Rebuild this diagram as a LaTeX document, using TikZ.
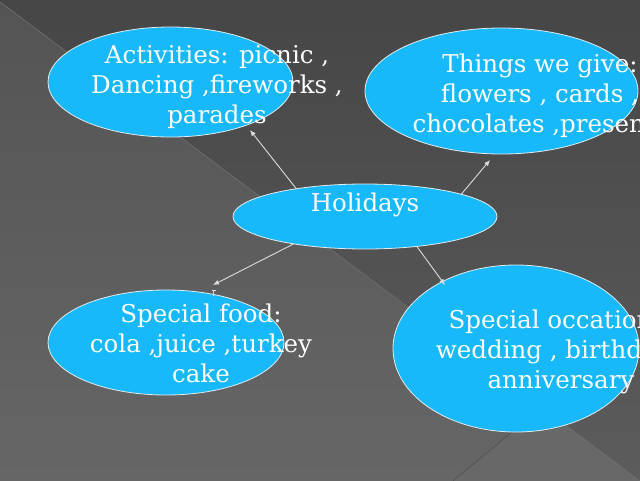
\documentclass[tikz,border=0pt]{standalone}
\usepackage{fontspec}
\setmainfont{DejaVu Serif}
\usetikzlibrary{shapes.geometric,arrows.meta}
\definecolor{bubblefill}{RGB}{24,185,251}
\definecolor{ringc}{RGB}{225,235,240}
\definecolor{linkc}{RGB}{220,220,220}
\definecolor{bgtop}{RGB}{70,70,70}
\definecolor{bgbot}{RGB}{92,92,92}
\definecolor{lowtop}{RGB}{84,84,84}
\definecolor{lowbot}{RGB}{102,102,102}
\definecolor{wedgec}{RGB}{104,104,104}
\definecolor{seamc}{RGB}{112,112,112}
\definecolor{seamd}{RGB}{80,80,80}
\begin{document}
\begin{tikzpicture}[x=1pt,y=-1pt,
  bubble/.style={ellipse, draw=ringc, line width=0.8pt, fill=bubblefill, inner sep=0pt, outer sep=0pt},
  bubbletext/.style={text=white, align=center, inner sep=0pt, font=\fontsize{24.5}{30}\selectfont},
  link/.style={draw=linkc, line width=0.9pt, -{Latex[length=6pt,width=5pt]}}]
\useasboundingbox (0,0) rectangle (640,480);
\clip (0,0) rectangle (640,480);
% background
\shade[top color=bgtop, bottom color=bgbot] (0,0) rectangle (640,480);
\shade[top color=lowtop, bottom color=lowbot] (0,2) -- (640,481) -- (0,481) -- cycle;
\fill[wedgec] (453,481) -- (542,407) -- (640,481) -- cycle;
\draw[seamc, line width=0.6pt] (0,2) -- (640,481);
\draw[seamd, line width=0.6pt] (542,407) -- (453,481);
% bubbles
\node[bubble, minimum width=245pt, minimum height=110pt] (act) at (170.5,82) {};
\node[bubble, minimum width=273pt, minimum height=126pt] (give) at (501.5,91) {};
\node[bubble, minimum width=264pt, minimum height=65pt] (hol) at (365,216.5) {};
\node[bubble, minimum width=236pt, minimum height=105pt] (food) at (166,342.5) {};
\node[bubble, minimum width=246pt, minimum height=167pt] (occ) at (516,348.5) {};
% arrow tips
\coordinate (tipA) at (250,130);
\coordinate (tipG) at (490,160);
\coordinate (tipF) at (213,285);
\coordinate (tipO) at (445,285);
\draw[link] (hol.158) -- (tipA);
\draw[link] (hol.13) -- (tipG);
\draw[link] (hol.201) -- (tipF);
\draw[link] (hol.330) -- (tipO);
% small tick above food bubble
\coordinate (tickT) at (213.5,290);
\coordinate (tickB) at (213.5,295.5);
\draw[linkc, line width=0.7pt] (tickT) -- (tickB);
\draw[linkc, line width=0.7pt] ([xshift=-2pt]tickT) -- ([xshift=2pt]tickT);
% texts
\node[bubbletext] (actT) at (217,87) {\strut Activities: picnic ,\\\strut Dancing ,fireworks ,\\\strut parades};
\node[bubbletext] (giveT) at (540,96) {\strut Things we give:\\\strut flowers , cards ,\\\strut chocolates ,presents};
\node[bubbletext] (holT) at (365,205) {\strut Holidays};
\node[bubbletext] (foodT) at (201,346) {\strut Special food:\\\strut cola ,juice ,turkey\\\strut cake};
\node[bubbletext] (occT) at (561,352) {\strut Special occations:\\\strut wedding , birthday ,\\\strut anniversary};
\end{tikzpicture}
\end{document}
